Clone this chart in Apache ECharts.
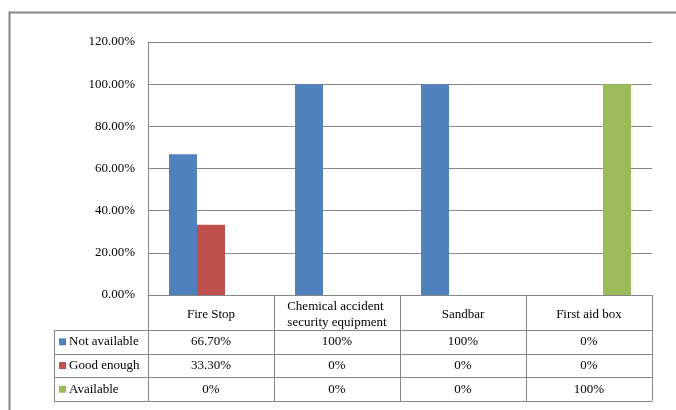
<!DOCTYPE html>
<html>
<head>
<meta charset="utf-8">
<script src="https://cdn.jsdelivr.net/npm/echarts@6/dist/echarts.min.js"></script>
<style>
html,body{margin:0;padding:0;background:#fff;}
#c{width:676px;height:410px;}
</style>
</head>
<body>
<div id="c"></div>
<script>
const categories = ['Fire Stop', 'Chemical accident security equipment', 'Sandbar', 'First aid box'];
const seriesNames = ['Not available', 'Good enough', 'Available'];
const notAvailable = [0.667, 1, 1, 0];
const goodEnough = [0.333, 0, 0, 0];
const available = [0, 0, 0, 1];
const seriesColors = ['#4F81BD', '#C0504D', '#9BBB59'];
const yMax = 1.2;
const yStep = 0.2;

const FONT = '"Liberation Serif", "Times New Roman", serif';
const GRID = {left: 148, right: 24, top: 42, bottom: 115};
const W = 676, H = 410;
const lineColor = '#868686';
const headerH = 35;
const rowH = 23.7;
const tableLeft = 54;

function fmtAxis(v) { return (v * 100).toFixed(2) + '%'; }
function fmtCell(v) {
  const p = Math.round(v * 10000) / 100;
  return Number.isInteger(p) ? p + '%' : p.toFixed(2) + '%';
}

const chart = echarts.init(document.getElementById('c'), null, {renderer: 'canvas', width: W, height: H});
const allSeries = [notAvailable, goodEnough, available];

chart.setOption({
  animation: false,
  textStyle: {fontFamily: FONT},
  grid: GRID,
  legend: {
    orient: 'vertical',
    left: 59,
    top: GRID.top + (H - GRID.top - GRID.bottom) + headerH + rowH / 2 - 7,
    padding: 0,
    itemWidth: 7,
    itemHeight: 7,
    itemGap: rowH - 14,
    icon: 'rect',
    selectedMode: false,
    textStyle: {fontFamily: FONT, fontSize: 13, color: '#000', lineHeight: 14, padding: [0, 0, 0, -2]},
    data: seriesNames
  },
  xAxis: {
    type: 'category',
    data: categories,
    axisLine: {lineStyle: {color: lineColor, width: 1}},
    axisTick: {show: true, length: headerH + rowH * 3, lineStyle: {color: lineColor, width: 1}},
    axisLabel: {
      interval: 0,
      margin: headerH / 2 + 2,
      verticalAlign: 'middle',
      fontFamily: FONT,
      fontSize: 13,
      color: '#000',
      lineHeight: 16,
      width: 115,
      overflow: 'break'
    }
  },
  yAxis: {
    type: 'value',
    min: 0,
    max: yMax,
    interval: yStep,
    axisLine: {show: true, lineStyle: {color: lineColor}},
    axisTick: {show: false},
    splitLine: {lineStyle: {color: lineColor, width: 1}},
    axisLabel: {formatter: fmtAxis, fontFamily: FONT, fontSize: 13, color: '#000', margin: 13}
  },
  series: seriesNames.map((n, i) => ({
    name: n,
    type: 'bar',
    data: allSeries[i],
    barWidth: 28,
    barGap: '0%',
    itemStyle: {color: seriesColors[i]}
  }))
});

const plotBottom = H - GRID.bottom;
const plotRight = W - GRID.right;
const tableTop = plotBottom + headerH;
const elems = [];
// outer frame
elems.push({type: 'rect', shape: {x: 9.5, y: 12.5, width: 720, height: 460}, style: {fill: 'none', stroke: lineColor, lineWidth: 2}, silent: true});
// horizontal table lines
for (let r = 0; r <= 3; r++) {
  const y = Math.round(tableTop + r * rowH) + 0.5;
  elems.push({type: 'line', shape: {x1: tableLeft, y1: y, x2: plotRight, y2: y}, style: {stroke: lineColor, lineWidth: 1}, silent: true});
}
// left vertical table line
elems.push({type: 'line', shape: {x1: tableLeft + 0.5, y1: tableTop, x2: tableLeft + 0.5, y2: tableTop + 3 * rowH}, style: {stroke: lineColor, lineWidth: 1}, silent: true});
// row label column divider
elems.push({type: 'line', shape: {x1: GRID.left + 0.5, y1: tableTop, x2: GRID.left + 0.5, y2: tableTop + 3 * rowH}, style: {stroke: lineColor, lineWidth: 1}, silent: true});
// cell values
allSeries.forEach((arr, r) => {
  arr.forEach((v, c) => {
    const x = chart.convertToPixel({xAxisIndex: 0}, c);
    elems.push({
      type: 'text',
      x: x,
      y: tableTop + r * rowH + rowH / 2,
      style: {text: fmtCell(v), fontFamily: FONT, fontSize: 13, fill: '#000', align: 'center', verticalAlign: 'middle'},
      silent: true
    });
  });
});
chart.setOption({graphic: {elements: elems}});
</script>
</body>
</html>
